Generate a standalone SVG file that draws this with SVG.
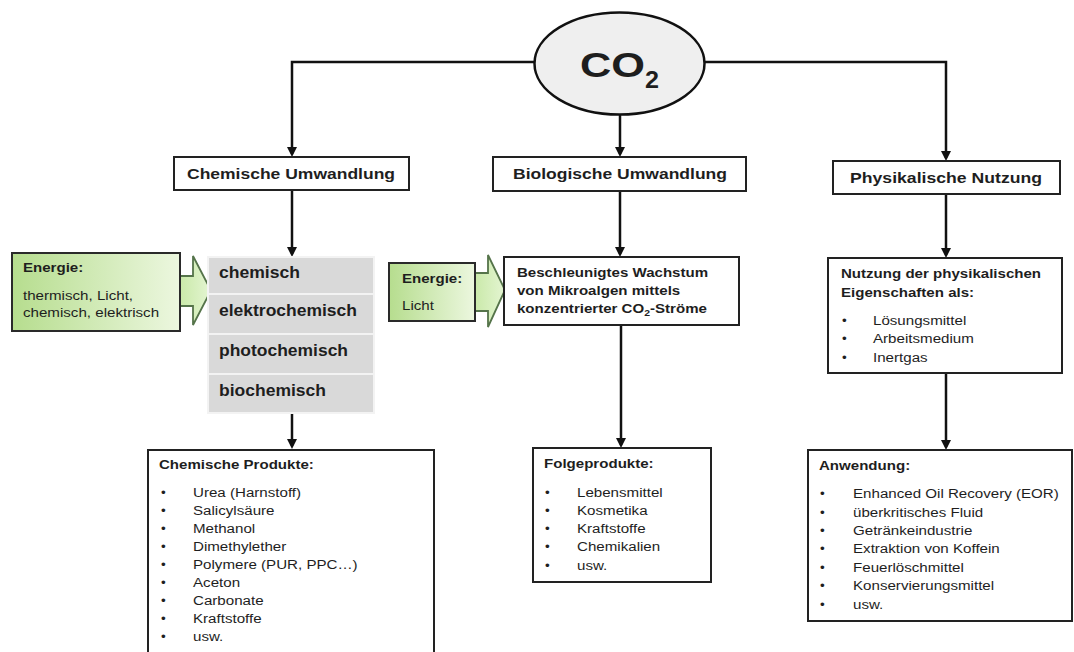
<svg xmlns="http://www.w3.org/2000/svg" width="1074" height="652" viewBox="0 0 1074 652">
<defs>
  <marker id="ah" markerUnits="userSpaceOnUse" markerWidth="11" markerHeight="11" refX="7" refY="5" orient="auto">
    <path d="M0,0 L10,5 L0,10 Z" fill="#111"/>
  </marker>
  <linearGradient id="gbox" x1="0" y1="0" x2="1" y2="0">
    <stop offset="0" stop-color="#b6dd8e"/>
    <stop offset="1" stop-color="#ecf7df"/>
  </linearGradient>
  <linearGradient id="garr" x1="0" y1="0" x2="1" y2="0">
    <stop offset="0" stop-color="#c9e9a8"/>
    <stop offset="1" stop-color="#e4f5d2"/>
  </linearGradient>
</defs>
<style>
  .box{fill:#fff;stroke:#222;stroke-width:2}
  .con{fill:none;stroke:#111;stroke-width:2.5}
  .t{font-family:"Liberation Sans",Arial,sans-serif;fill:#1e1e1e}
  .b{font-weight:bold}
  .b13{font-size:13px;font-weight:bold}
  .r13{font-size:13.5px}
  .b15{font-size:15px;font-weight:bold}
  .b16{font-size:16px;font-weight:bold}
  .row{fill:#d9d9d9}
  .en{fill:url(#gbox);stroke:#2a2a2a;stroke-width:2}
  .enarr{fill:url(#garr);stroke:#55744a;stroke-width:1.8}
</style>
<rect width="1074" height="652" fill="#fff"/>

<g id="connectors">
  <path class="con" d="M534,62 H292 V154" marker-end="url(#ah)"/>
  <path class="con" d="M704,62 H946 V158" marker-end="url(#ah)"/>
  <path class="con" d="M620,115 V154" marker-end="url(#ah)"/>
  <path class="con" d="M292,190 V254" marker-end="url(#ah)"/>
  <path class="con" d="M292,413 V446" marker-end="url(#ah)"/>
  <path class="con" d="M620,191 V254" marker-end="url(#ah)"/>
  <path class="con" d="M621,325 V445" marker-end="url(#ah)"/>
  <path class="con" d="M946,194 V255" marker-end="url(#ah)"/>
  <path class="con" d="M946,373 V447" marker-end="url(#ah)"/>
</g>

<g id="co2">
  <ellipse cx="619.5" cy="63.5" rx="85" ry="51" fill="#efefef" stroke="#111" stroke-width="2.5"/>
  <text class="t b" x="580" y="77" font-size="35" textLength="65" lengthAdjust="spacingAndGlyphs">CO</text>
  <text class="t b" x="645" y="88" font-size="24" textLength="14" lengthAdjust="spacingAndGlyphs">2</text>
</g>

<g id="chem-umwandlung">
  <rect class="box" x="174" y="157" width="235" height="33"/>
  <text class="t b15" x="187" y="179" textLength="208" lengthAdjust="spacingAndGlyphs">Chemische Umwandlung</text>
</g>

<g id="bio-umwandlung">
  <rect class="box" x="493" y="157" width="253" height="34"/>
  <text class="t b15" x="513" y="179" textLength="214" lengthAdjust="spacingAndGlyphs">Biologische Umwandlung</text>
</g>

<g id="phys-nutzung">
  <rect class="box" x="833" y="161" width="227" height="33"/>
  <text class="t b15" x="850" y="183" textLength="192" lengthAdjust="spacingAndGlyphs">Physikalische Nutzung</text>
</g>

<g id="energie-chem">
  <polygon class="enarr" points="179,276 193,276 193,256 211,290.5 193,325 193,306 179,306"/>
  <rect class="en" x="12" y="253" width="168" height="78"/>
  <text class="t b13" x="23" y="272" transform="matrix(1.16 0 0 1 -3.68 0)">Energie:</text>
  <g class="t r13" transform="matrix(1.12 0 0 1 -2.76 0)">
    <text x="23" y="300">thermisch, Licht,</text>
    <text x="23" y="317">chemisch, elektrisch</text>
  </g>
</g>

<g id="chem-verfahren">
  <rect x="207" y="256" width="168" height="158" fill="#f3f3f3"/>
  <rect class="row" x="209" y="258" width="164" height="35"/>
  <rect class="row" x="209" y="295" width="164" height="38"/>
  <rect class="row" x="209" y="335" width="164" height="38"/>
  <rect class="row" x="209" y="375" width="164" height="37"/>
  <text class="t b16" x="219" y="278" textLength="81" lengthAdjust="spacingAndGlyphs">chemisch</text>
  <text class="t b16" x="219" y="316" textLength="138" lengthAdjust="spacingAndGlyphs">elektrochemisch</text>
  <text class="t b16" x="219" y="356" textLength="129" lengthAdjust="spacingAndGlyphs">photochemisch</text>
  <text class="t b16" x="219" y="396" textLength="107" lengthAdjust="spacingAndGlyphs">biochemisch</text>
</g>

<g id="energie-bio">
  <polygon class="enarr" points="474,273 488,273 488,255 505,290 488,327 488,311 474,311"/>
  <rect class="en" x="389" y="263" width="86" height="58"/>
  <text class="t b13" x="402" y="283" transform="matrix(1.16 0 0 1 -64.32 0)">Energie:</text>
  <text class="t r13" x="402" y="310" transform="matrix(1.12 0 0 1 -48.24 0)">Licht</text>
</g>

<g id="mikroalgen">
  <rect class="box" x="504" y="257" width="235" height="68"/>
  <g class="t b13" transform="matrix(1.16 0 0 1 -82.72 0)">
    <text x="517" y="277">Beschleunigtes Wachstum</text>
    <text x="517" y="295">von Mikroalgen mittels</text>
    <text x="517" y="313">konzentrierter CO<tspan font-size="9" dy="3">2</tspan><tspan dy="-3">-Ströme</tspan></text>
  </g>
</g>

<g id="phys-eigenschaften">
  <rect class="box" x="828" y="258" width="234" height="115"/>
  <g class="t b13" transform="matrix(1.16 0 0 1 -134.56 0)">
    <text x="841" y="278">Nutzung der physikalischen</text>
    <text x="841" y="297">Eigenschaften als:</text>
  </g>
  <g class="t r13">
    <text x="842" y="325">•</text>
    <text x="842" y="343">•</text>
    <text x="842" y="362">•</text>
  </g>
  <g class="t r13" transform="matrix(1.12 0 0 1 -104.76 0)">
    <text x="873" y="325">Lösungsmittel</text>
    <text x="873" y="343">Arbeitsmedium</text>
    <text x="873" y="362">Inertgas</text>
  </g>
</g>

<g id="chem-produkte">
  <rect class="box" x="148" y="450" width="286" height="215"/>
  <text class="t b13" x="159" y="469" transform="matrix(1.16 0 0 1 -25.44 0)">Chemische Produkte:</text>
  <g class="t r13">
    <text x="161" y="497">•</text>
    <text x="161" y="515">•</text>
    <text x="161" y="533">•</text>
    <text x="161" y="551">•</text>
    <text x="161" y="569">•</text>
    <text x="161" y="587">•</text>
    <text x="161" y="605">•</text>
    <text x="161" y="623">•</text>
    <text x="161" y="641">•</text>
  </g>
  <g class="t r13" transform="matrix(1.12 0 0 1 -23.16 0)">
    <text x="193" y="497">Urea (Harnstoff)</text>
    <text x="193" y="515">Salicylsäure</text>
    <text x="193" y="533">Methanol</text>
    <text x="193" y="551">Dimethylether</text>
    <text x="193" y="569">Polymere (PUR, PPC…)</text>
    <text x="193" y="587">Aceton</text>
    <text x="193" y="605">Carbonate</text>
    <text x="193" y="623">Kraftstoffe</text>
    <text x="193" y="641">usw.</text>
  </g>
</g>

<g id="folgeprodukte">
  <rect class="box" x="533" y="448" width="178" height="134"/>
  <text class="t b13" x="544" y="468" transform="matrix(1.16 0 0 1 -87.04 0)">Folgeprodukte:</text>
  <g class="t r13">
    <text x="545" y="497">•</text>
    <text x="545" y="515">•</text>
    <text x="545" y="533">•</text>
    <text x="545" y="551">•</text>
    <text x="545" y="570">•</text>
  </g>
  <g class="t r13" transform="matrix(1.12 0 0 1 -69.24 0)">
    <text x="577" y="497">Lebensmittel</text>
    <text x="577" y="515">Kosmetika</text>
    <text x="577" y="533">Kraftstoffe</text>
    <text x="577" y="551">Chemikalien</text>
    <text x="577" y="570">usw.</text>
  </g>
</g>

<g id="anwendung">
  <rect class="box" x="808" y="450" width="264" height="171"/>
  <text class="t b13" x="819" y="470" transform="matrix(1.16 0 0 1 -131.04 0)">Anwendung:</text>
  <g class="t r13">
    <text x="820" y="498">•</text>
    <text x="820" y="517">•</text>
    <text x="820" y="535">•</text>
    <text x="820" y="553">•</text>
    <text x="820" y="572">•</text>
    <text x="820" y="590">•</text>
    <text x="820" y="609">•</text>
  </g>
  <g class="t r13" transform="matrix(1.12 0 0 1 -102.36 0)">
    <text x="853" y="498">Enhanced Oil Recovery (EOR)</text>
    <text x="853" y="517">überkritisches Fluid</text>
    <text x="853" y="535">Getränkeindustrie</text>
    <text x="853" y="553">Extraktion von Koffein</text>
    <text x="853" y="572">Feuerlöschmittel</text>
    <text x="853" y="590">Konservierungsmittel</text>
    <text x="853" y="609">usw.</text>
  </g>
</g>
</svg>
